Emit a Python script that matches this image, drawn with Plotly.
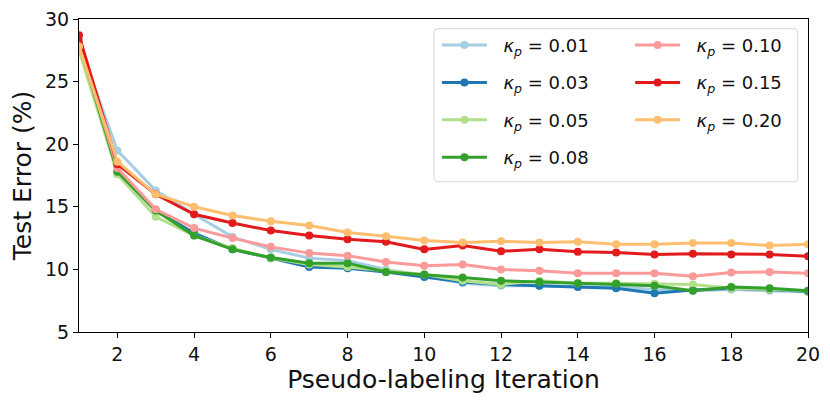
import plotly.graph_objects as go

iters = list(range(1, 21))

kp_01 = [28.0, 19.5, 16.3, 14.4, 12.6, 11.6, 10.9, 10.7, 10.0, 9.5, 8.9, 8.7, 8.7, 8.6, 8.6, 8.4, 8.3, 8.4, 8.3, 8.2]
kp_03 = [28.3, 17.8, 14.7, 12.9, 11.6, 10.9, 10.2, 10.1, 9.8, 9.4, 9.0, 8.8, 8.7, 8.6, 8.5, 8.1, 8.35, 8.5, 8.4, 8.25]
kp_05 = [27.5, 17.6, 14.2, 12.7, 11.7, 10.9, 10.4, 10.2, 9.9, 9.6, 9.1, 8.8, 9.1, 8.9, 8.9, 8.85, 8.8, 8.5, 8.4, 8.3]
kp_08 = [28.1, 17.8, 14.7, 12.7, 11.6, 10.95, 10.5, 10.5, 9.8, 9.6, 9.35, 9.1, 9.0, 8.9, 8.85, 8.7, 8.3, 8.6, 8.5, 8.3]
kp_10 = [28.2, 18.1, 14.8, 13.3, 12.5, 11.8, 11.3, 11.1, 10.6, 10.3, 10.4, 10.0, 9.9, 9.7, 9.7, 9.7, 9.45, 9.75, 9.8, 9.7]
kp_15 = [28.7, 18.4, 16.0, 14.4, 13.7, 13.1, 12.7, 12.4, 12.2, 11.6, 11.9, 11.45, 11.6, 11.4, 11.35, 11.2, 11.25, 11.2, 11.2, 11.05]
kp_20 = [27.8, 18.6, 16.0, 15.0, 14.3, 13.85, 13.5, 12.95, 12.65, 12.3, 12.15, 12.25, 12.15, 12.2, 12.0, 12.0, 12.1, 12.1, 11.9, 12.0]

kp_labels = ["0.01", "0.03", "0.05", "0.08", "0.10", "0.15", "0.20"]
series = [kp_01, kp_03, kp_05, kp_08, kp_10, kp_15, kp_20]
colors = ["#a6cee3", "#1f78b4", "#b2df8a", "#33a02c", "#fb9a99", "#e31a1c", "#fdbf6f"]

fig = go.Figure()

for i, (lab, ys, c) in enumerate(zip(kp_labels, series, colors)):
    fig.add_trace(go.Scatter(
                            x=iters,
                            y=ys,
                            mode='lines+markers',
                            name="&nbsp;&nbsp;<i>κ</i><sub><i>p</i></sub> = " + lab,
                            line=dict(color=c, width=3),
                            marker=dict(color=c, size=8),
                            legend="legend" if i < 4 else "legend2",
                            legendgroup=lab,
                          ))

# shared legend frame (matplotlib style, rounded corners)
x0, x1, y0, y1 = 0.487, 0.986, 0.480, 0.969
rx, ry = 4 / 729, 4 / 313
frame = (f"M {x0+rx},{y0} L {x1-rx},{y0} Q {x1},{y0} {x1},{y0+ry} "
         f"L {x1},{y1-ry} Q {x1},{y1} {x1-rx},{y1} L {x0+rx},{y1} "
         f"Q {x0},{y1} {x0},{y1-ry} L {x0},{y0+ry} Q {x0},{y0} {x0+rx},{y0} Z")
fig.add_shape(type="path", path=frame, xref="paper", yref="paper",
              line=dict(color="#d6d6d6", width=1), fillcolor="rgba(255,255,255,0.8)",
              layer="above")

axis_style = dict(
    showline=True, linecolor="black", linewidth=1, mirror=True,
    ticks="outside", ticklen=5, tickcolor="black", tickwidth=1,
    showgrid=False, zeroline=False, automargin=False,
    ticklabeloverflow="allow",
    tickfont=dict(size=19, color="#111111"),
)

legend_style = dict(
    font=dict(size=18, color="#111111"),
    bgcolor="rgba(0,0,0,0)", borderwidth=0,
    yanchor="top", y=0.975, xanchor="left",
    tracegroupgap=11, itemwidth=45,
)

# the page body adds 8px on the left and top, so margins are trimmed by that
fig.update_layout(
    width=830, height=404,
    margin=dict(l=71, r=30, t=11, b=80),
    plot_bgcolor="white", paper_bgcolor="white",
    font=dict(family="DejaVu Sans", color="#111111"),
    xaxis=dict(axis_style, range=[1, 20], tickvals=list(range(2, 21, 2)),
               title=dict(text="Pseudo-labeling Iteration", font=dict(size=25), standoff=4)),
    yaxis=dict(axis_style, range=[5, 30], tickvals=list(range(5, 31, 5)),
               title=dict(text="Test Error (%)", font=dict(size=25), standoff=8)),
    legend=dict(legend_style, x=0.491),
    legend2=dict(legend_style, x=0.756),
)

fig.write_html("out.html")
